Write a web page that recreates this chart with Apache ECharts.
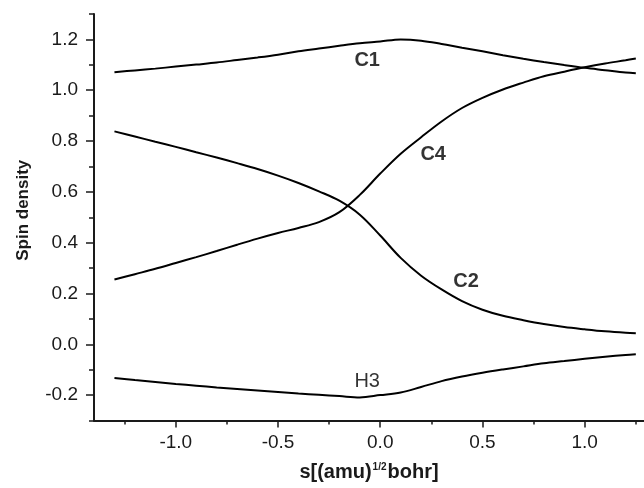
<!DOCTYPE html>
<html>
<head>
<meta charset="utf-8">
<script src="https://cdn.jsdelivr.net/npm/echarts@6/dist/echarts.min.js"></script>
<style>html,body{margin:0;padding:0;background:#fff}#c{width:644px;height:488px}</style>
</head>
<body>
<div id="c"></div>
<script>
// reaction coordinate s
var sValues = [-1.3,-1.2,-1.1,-1.0,-0.9,-0.8,-0.7,-0.6,-0.5,-0.4,-0.3,-0.2,-0.1,0.0,0.1,0.2,0.3,0.4,0.5,0.6,0.7,0.8,0.9,1.0,1.1,1.2,1.25];
var C1 = [1.071,1.078,1.085,1.093,1.101,1.109,1.119,1.129,1.140,1.153,1.164,1.175,1.185,1.192,1.200,1.195,1.182,1.167,1.153,1.138,1.124,1.111,1.099,1.088,1.079,1.070,1.067];
var C4 = [0.255,0.276,0.297,0.320,0.343,0.367,0.392,0.416,0.438,0.458,0.481,0.520,0.588,0.672,0.750,0.815,0.877,0.930,0.970,1.003,1.030,1.055,1.073,1.090,1.105,1.118,1.125];
var C2 = [0.838,0.818,0.797,0.777,0.756,0.735,0.713,0.690,0.664,0.635,0.602,0.565,0.510,0.428,0.340,0.270,0.216,0.170,0.136,0.112,0.095,0.080,0.068,0.059,0.051,0.045,0.043];
var H3 = [-0.133,-0.141,-0.148,-0.156,-0.163,-0.170,-0.176,-0.182,-0.188,-0.194,-0.199,-0.204,-0.209,-0.200,-0.190,-0.168,-0.145,-0.127,-0.112,-0.099,-0.087,-0.075,-0.066,-0.057,-0.049,-0.042,-0.039];
// curve annotations
var labelNames = ['C1','C4','C2','H3'];
var labelS = [-0.064,0.259,0.42,-0.064];
var labelV = [1.118,0.749,0.247,-0.145];
var labelBold = [true,true,true,false];
// ticks
var xMajor = [-1.0,-0.5,0.0,0.5,1.0];
var xMinor = [-1.25,-0.75,-0.25,0.25,0.75,1.25];
var yMajor = [-0.2,0.0,0.2,0.4,0.6,0.8,1.0,1.2];
var yMinor = [-0.3,-0.1,0.1,0.3,0.5,0.7,0.9,1.1,1.3];

var FONT = 'Liberation Sans, Arial, sans-serif';
function pairs(ys){ return sValues.map(function(s,i){ return [s, ys[i]]; }); }
function lineSeries(name, ys){
  return {name:name,type:'line',data:pairs(ys),smooth:0.35,showSymbol:false,symbol:'none',
    lineStyle:{color:'#000',width:2},xAxisIndex:0,yAxisIndex:0,animation:false,z:3};
}
var labelData = labelNames.map(function(n,i){
  return {value:[labelS[i],labelV[i]],name:n,
    label:{fontWeight: labelBold[i]?'bold':'normal'}};
});
var X = {min:-1.4,max:1.29};
var Y = {min:-0.3,max:1.3};
var chart = echarts.init(document.getElementById('c'),null,{renderer:'canvas'});
chart.setOption({
  animation:false,
  backgroundColor:'#fff',
  grid:{left:94,right:0,top:14,bottom:67.5,containLabel:false},
  xAxis:[
    {type:'value',min:X.min,max:X.max,position:'bottom',
     axisLine:{show:true,onZero:false,lineStyle:{color:'#1a1a1a',width:2}},
     axisTick:{show:true,length:7,customValues:xMajor,lineStyle:{color:'#1a1a1a',width:1.5}},
     axisLabel:{show:true,customValues:xMajor,margin:13,fontSize:19,color:'#1a1a1a',fontFamily:FONT,
       formatter:function(v){return v.toFixed(1);}},
     splitLine:{show:false},
     name:'{a|s[(amu)}{s|1/2}{a|bohr]}',nameLocation:'middle',nameGap:42,
     nameTextStyle:{rich:{
       a:{fontSize:20,fontWeight:'bold',color:'#1a1a1a',fontFamily:FONT},
       s:{fontSize:10,fontWeight:'bold',color:'#1a1a1a',fontFamily:FONT,verticalAlign:'top',padding:[0,1,10,1]}
     }}},
    {type:'value',min:X.min,max:X.max,position:'bottom',
     axisLine:{show:false,onZero:false},
     axisTick:{show:true,length:4,customValues:xMinor,lineStyle:{color:'#1a1a1a',width:1.5}},
     axisLabel:{show:false},splitLine:{show:false}}
  ],
  yAxis:[
    {type:'value',min:Y.min,max:Y.max,position:'left',
     axisLine:{show:true,onZero:false,lineStyle:{color:'#1a1a1a',width:2}},
     axisTick:{show:true,length:8,customValues:yMajor,lineStyle:{color:'#1a1a1a',width:1.5}},
     axisLabel:{show:true,customValues:yMajor,margin:16,fontSize:19,color:'#1a1a1a',fontFamily:FONT,
       formatter:function(v){return v.toFixed(1);}},
     splitLine:{show:false},
     name:'Spin density',nameLocation:'middle',nameGap:62,nameRotate:90,
     nameTextStyle:{fontSize:17,fontWeight:'bold',color:'#1a1a1a',fontFamily:FONT,padding:[0,0,0,14]}},
    {type:'value',min:Y.min,max:Y.max,position:'left',
     axisLine:{show:false,onZero:false},
     axisTick:{show:true,length:5,customValues:yMinor,lineStyle:{color:'#1a1a1a',width:1.5}},
     axisLabel:{show:false},splitLine:{show:false}}
  ],
  series:[
    lineSeries('C1',C1),
    lineSeries('C4',C4),
    lineSeries('C2',C2),
    lineSeries('H3',H3),
    {type:'scatter',symbolSize:0,data:labelData,xAxisIndex:0,yAxisIndex:0,silent:true,z:5,
     label:{show:true,position:'inside',formatter:'{b}',fontSize:20,color:'#000',fontFamily:FONT}}
  ]
});
</script>
</body>
</html>
